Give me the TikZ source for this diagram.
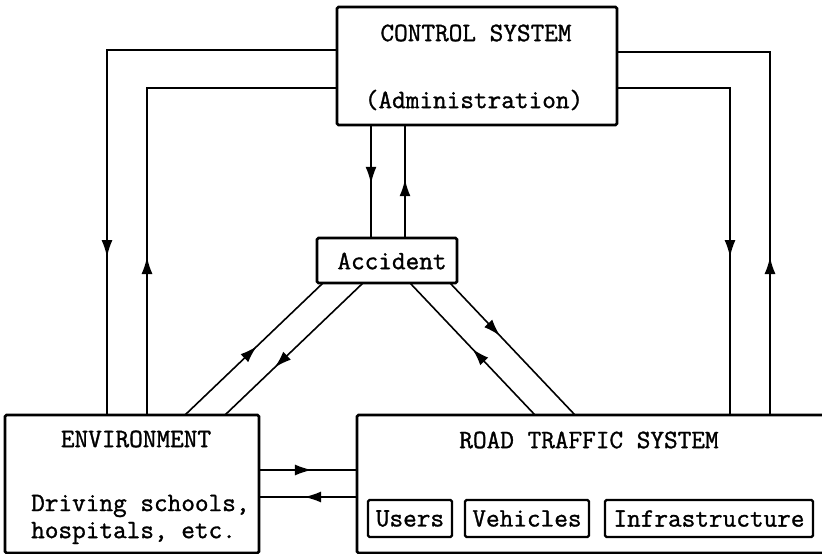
\documentclass[tikz,border=0pt]{standalone}
\usepackage{fontspec}
\newfontfamily\tw{Latin Modern Mono}[FakeBold=1.2]
\usetikzlibrary{arrows.meta,decorations.markings}
\begin{document}
\begin{tikzpicture}[x=1pt,y=-1pt,
  box/.style={draw,line width=2.6pt,rounded corners=1.5pt,inner sep=0pt,outer sep=0pt},
  subbox/.style={draw,line width=2.4pt,rounded corners=1.5pt,inner sep=0pt,outer sep=0pt,font=\fontsize{26.5}{30}\selectfont\tw},
  txt/.style={inner sep=0pt,font=\fontsize{26.5}{30}\selectfont\tw},
  conn/.style={line width=1.6pt},
  midarr/.style={postaction={decorate},decoration={markings,
     mark=at position #1 with {\arrow{Latex[length=17pt,width=11pt]}}}}]
\clip (0,0) rectangle (822,554);
\fill[white] (0,0) rectangle (822,554);
% boxes
\node[box,minimum width=280pt,minimum height=118pt] (ctrl) at (477,66) {};
\node[box,minimum width=140pt,minimum height=45pt] (acc) at (387,260.5) {};
\node[box,minimum width=254pt,minimum height=138pt] (env) at (132,484) {};
\node[box,minimum width=475pt,minimum height=138pt] (rts) at (594.5,484) {};
\node[subbox,minimum width=84pt,minimum height=37pt] (users) at (410,518.5) {Users};
\node[subbox,minimum width=124pt,minimum height=37pt] (veh) at (527,518.5) {Vehicles};
\node[subbox,minimum width=208pt,minimum height=37pt] (infra) at (709,518.5) {Infrastructure};
% texts
\node[txt] (t1) at (476,33) {CONTROL SYSTEM};
\node[txt] (t2) at (474,100) {(Administration)};
\node[txt] (t3) at (392,261) {Accident};
\node[txt] (t4) at (136,439) {ENVIRONMENT};
\node[txt,anchor=west] (t5) at (31,506) {Driving schools,};
\node[txt,anchor=west] (t6) at (31,533) {hospitals, etc.};
\node[txt] (t7) at (589,440) {ROAD TRAFFIC SYSTEM};
% control <-> environment
\draw[conn,midarr=437pt] ([yshift=-43pt]ctrl.north west) -| ([xshift=102pt]env.north west);
\draw[conn,midarr=158pt] ([xshift=142pt]env.north west) |- ([yshift=-81pt]ctrl.north west);
% control <-> road traffic
\draw[conn,midarr=282pt] ([yshift=-81pt]ctrl.north east) -| ([xshift=373pt]rts.north west);
\draw[conn,midarr=158pt] ([xshift=413pt]rts.north west) |- ([yshift=-45pt]ctrl.north east);
% control <-> accident
\draw[conn,midarr=0.52] ([xshift=54pt]acc.north west |- ctrl.south) -- ([xshift=54pt]acc.north west);
\draw[conn,midarr=0.52] ([xshift=88pt]acc.north west) -- ([xshift=88pt]acc.north west |- ctrl.south);
% accident <-> environment
\draw[conn,midarr=0.52] ([xshift=180pt]env.north west) -- ([xshift=6pt]acc.south west);
\draw[conn,midarr=0.64] ([xshift=46pt]acc.south west) -- ([xshift=220pt]env.north west);
% accident <-> road traffic
\draw[conn,midarr=0.40] ([xshift=133pt]acc.south west) -- ([xshift=218pt]rts.north west);
\draw[conn,midarr=0.50] ([xshift=178pt]rts.north west) -- ([xshift=93pt]acc.south west);
% environment <-> road traffic
\draw[conn,midarr=0.54] ([yshift=-55pt]env.north east) -- ([yshift=-55pt]env.north east -| rts.west);
\draw[conn,midarr=0.54] ([yshift=-82pt]env.north east -| rts.west) -- ([yshift=-82pt]env.north east);
\end{tikzpicture}
\end{document}
